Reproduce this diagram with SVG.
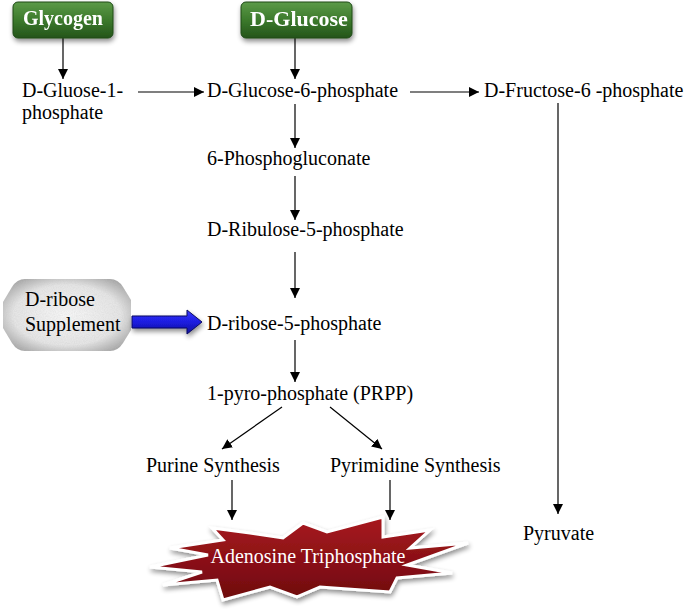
<svg xmlns="http://www.w3.org/2000/svg" width="688" height="615" viewBox="0 0 688 615">
<style>
.t{font-family:"Liberation Serif","Times New Roman",serif;font-size:20px;fill:#000}
.bt{font-family:"Liberation Serif","Times New Roman",serif;font-size:20px;font-weight:bold;fill:#fff;text-anchor:middle}
.c{stroke:#000;stroke-width:1.2;fill:none;marker-end:url(#ah)}
</style>
<defs>
<marker id="ah" viewBox="0 0 10 10" refX="10" refY="5" markerWidth="10" markerHeight="10" markerUnits="userSpaceOnUse" orient="auto">
<path d="M0,0 L10,5 L0,10 Z" fill="#000"/>
</marker>
<linearGradient id="gg" x1="0" y1="0" x2="0" y2="1">
<stop offset="0" stop-color="#5c9a48"/>
<stop offset="0.5" stop-color="#3c7a2c"/>
<stop offset="1" stop-color="#24541a"/>
</linearGradient>
<linearGradient id="rg" x1="0" y1="0" x2="0" y2="1">
<stop offset="0" stop-color="#a81a20"/>
<stop offset="0.5" stop-color="#8c1016"/>
<stop offset="1" stop-color="#6e0a0e"/>
</linearGradient>
<linearGradient id="bg" x1="0" y1="0" x2="0" y2="1">
<stop offset="0" stop-color="#3a3aff"/>
<stop offset="0.5" stop-color="#1c1ce0"/>
<stop offset="1" stop-color="#10109a"/>
</linearGradient>
<radialGradient id="og" cx="0.5" cy="0.5" r="0.6">
<stop offset="0" stop-color="#f6f6f6"/>
<stop offset="0.7" stop-color="#e4e4e4"/>
<stop offset="1" stop-color="#a8a8a8"/>
</radialGradient>
<filter id="sh" x="-20%" y="-30%" width="140%" height="170%">
<feGaussianBlur in="SourceAlpha" stdDeviation="2.5"/>
<feOffset dx="1" dy="3" result="b"/>
<feComponentTransfer><feFuncA type="linear" slope="0.45"/></feComponentTransfer>
<feMerge><feMergeNode/><feMergeNode in="SourceGraphic"/></feMerge>
</filter>
<filter id="tex" x="-10%" y="-10%" width="120%" height="130%">
<feTurbulence type="fractalNoise" baseFrequency="0.9" numOctaves="2" seed="3" result="n"/>
<feColorMatrix in="n" type="matrix" values="0 0 0 0 0.55  0 0 0 0 0.55  0 0 0 0 0.55  0 0 0 0.5 -0.15" result="nn"/>
<feComposite in="nn" in2="SourceGraphic" operator="in" result="nt"/>
<feMerge><feMergeNode in="SourceGraphic"/><feMergeNode in="nt"/></feMerge>
</filter>
</defs>

<g id="connectors">
<line class="c" x1="63" y1="38" x2="63" y2="79"/>
<line class="c" x1="295" y1="38" x2="295" y2="79"/>
<line class="c" x1="138" y1="92" x2="204" y2="92"/>
<line class="c" x1="410" y1="92" x2="479" y2="92"/>
<line class="c" x1="295" y1="104" x2="295" y2="148"/>
<line class="c" x1="295" y1="176" x2="295" y2="220"/>
<line class="c" x1="295" y1="252" x2="295" y2="298"/>
<line class="c" x1="295" y1="340" x2="295" y2="382"/>
<line class="c" x1="282" y1="407" x2="222" y2="449"/>
<line class="c" x1="330" y1="407" x2="382" y2="449"/>
<line class="c" x1="232" y1="480" x2="232" y2="520"/>
<line class="c" x1="390" y1="480" x2="390" y2="520"/>
<line class="c" x1="558" y1="103" x2="558" y2="514" stroke="#333"/>
</g>

<g id="glycogen" filter="url(#sh)">
<rect x="13" y="2" width="100" height="36" rx="5" fill="url(#gg)" stroke="#1e4a16" stroke-width="1"/>
<text class="bt" x="63" y="25">Glycogen</text>
</g>
<g id="d-glucose" filter="url(#sh)">
<rect x="241" y="2" width="111" height="36" rx="5" fill="url(#gg)" stroke="#1e4a16" stroke-width="1"/>
<text class="bt" x="299" y="26" style="font-size:22px">D-Glucose</text>
</g>

<g id="g1p"><text class="t" x="22" y="97">D-Gluose-1-</text><text class="t" x="22" y="119">phosphate</text></g>
<g id="g6p"><text class="t" x="207" y="97">D-Glucose-6-phosphate</text></g>
<g id="f6p"><text class="t" x="484" y="97">D-Fructose-6 -phosphate</text></g>
<g id="pgl"><text class="t" x="207" y="165">6-Phosphogluconate</text></g>
<g id="ru5p"><text class="t" x="207" y="236">D-Ribulose-5-phosphate</text></g>
<g id="r5p"><text class="t" x="207" y="330">D-ribose-5-phosphate</text></g>
<g id="prpp"><text class="t" x="207" y="400">1-pyro-phosphate (PRPP)</text></g>
<g id="purine"><text class="t" x="146" y="472">Purine Synthesis</text></g>
<g id="pyrimidine"><text class="t" x="330" y="472">Pyrimidine Synthesis</text></g>
<g id="pyruvate"><text class="t" x="523" y="540">Pyruvate</text></g>

<g id="d-ribose-supplement">
<path filter="url(#tex)" d="M25,279 L110,279 Q118,279 123,287 L131,300 L131,330 L123,343 Q118,351 110,351 L25,351 Q17,351 12,343 L3,328 L3,302 L12,287 Q17,279 25,279 Z" fill="url(#og)"/>
<text class="t" x="25" y="306">D-ribose</text>
<text class="t" x="25" y="331">Supplement</text>
</g>
<g id="blue-arrow" filter="url(#sh)">
<path d="M132,316 L187,316 L187,310 L202,322 L187,334 L187,328 L132,328 Z" fill="url(#bg)" stroke="#0a0a60" stroke-width="1"/>
</g>

<g id="atp">
<polygon filter="url(#sh)" points="212,528 223,540 170,548 208,555 150,567 202,572 163,585 217,580 223,600 270,587 297,597 320,587 390,592 397,578 452,573 407,565 468,543 410,548 430,530 383,537 383,517 327,532 303,523 283,538 250,533" fill="url(#rg)" stroke="#fff" stroke-width="3" stroke-linejoin="miter"/>
<text x="308" y="563" font-family="&quot;Liberation Serif&quot;,&quot;Times New Roman&quot;,serif" font-size="20" fill="#fff" text-anchor="middle">Adenosine Triphosphate</text>
</g>
</svg>
